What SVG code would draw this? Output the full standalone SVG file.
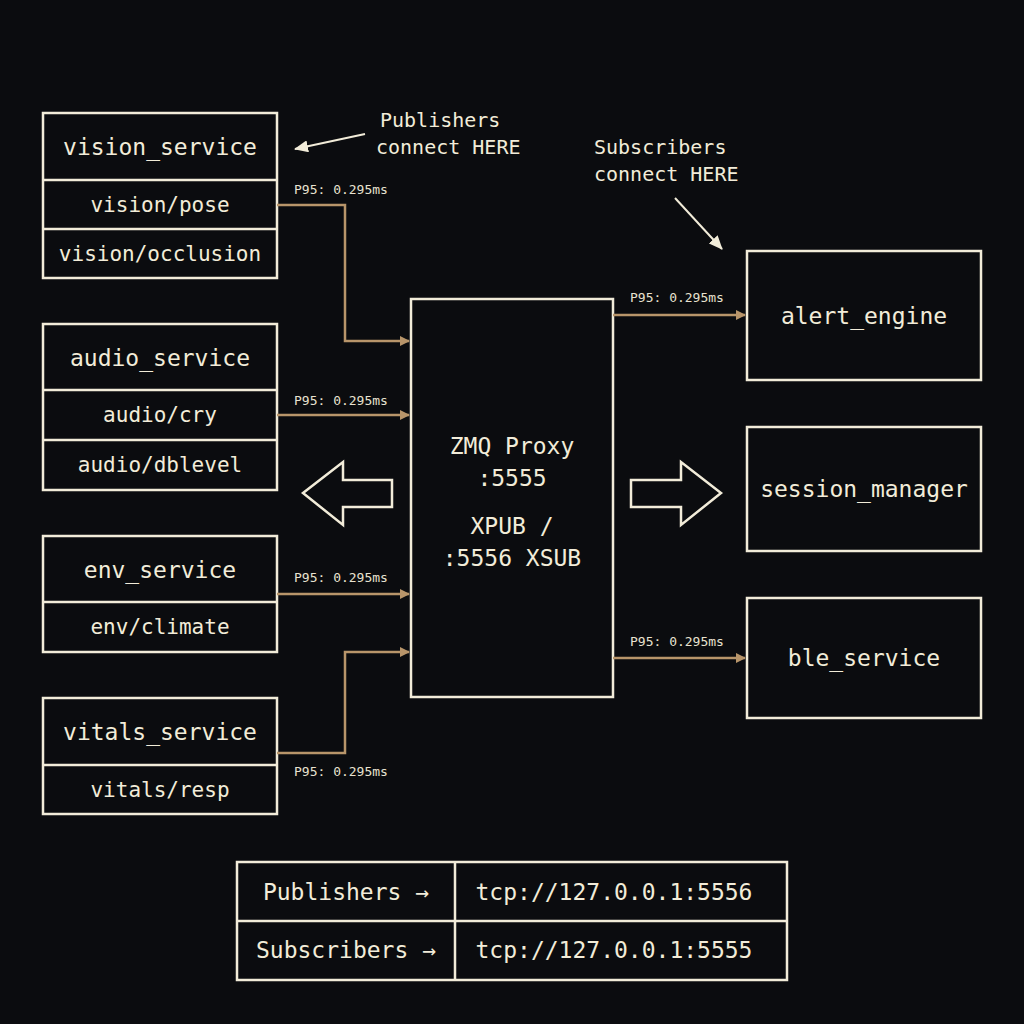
<svg xmlns="http://www.w3.org/2000/svg" width="1024" height="1024" viewBox="0 0 1024 1024">
<defs>
<style>
.b{fill:none;stroke:#f2ecd9;stroke-width:2.5}
.t{font-family:"DejaVu Sans Mono",monospace;fill:#f2ecd9;text-anchor:middle}
.h{font-size:23px}.r{font-size:21px}
.c{fill:none;stroke:#b8956a;stroke-width:2.5}
.p{font-family:"DejaVu Sans Mono",monospace;fill:#e8e2d0;font-size:13px}
.a{font-family:"DejaVu Sans Mono",monospace;fill:#f2ecd9;font-size:20px}
</style>
<marker id="m" markerWidth="10" markerHeight="10" refX="9" refY="5" orient="auto" markerUnits="userSpaceOnUse"><path d="M0,0 L10,5 L0,10z" fill="#b8956a"/></marker>
<marker id="w" markerWidth="14" markerHeight="12" refX="13" refY="6" orient="auto" markerUnits="userSpaceOnUse"><path d="M0,0 L14,6 L0,12z" fill="#f2ecd9"/></marker>
</defs>
<rect width="1024" height="1024" fill="#0b0c0f"/>
<g id="vision_service"><rect class="b" x="43" y="113" width="234" height="165"/><path class="b" d="M43 180H277M43 229H277"/>
<text class="t h" x="160" y="155">vision_service</text><text class="t r" x="160" y="212">vision/pose</text><text class="t r" x="160" y="261">vision/occlusion</text></g>
<g id="audio_service"><rect class="b" x="43" y="324" width="234" height="166"/><path class="b" d="M43 390H277M43 440H277"/>
<text class="t h" x="160" y="366">audio_service</text><text class="t r" x="160" y="422">audio/cry</text><text class="t r" x="160" y="472">audio/dblevel</text></g>
<g id="env_service"><rect class="b" x="43" y="536" width="234" height="116"/><path class="b" d="M43 602H277"/>
<text class="t h" x="160" y="578">env_service</text><text class="t r" x="160" y="634">env/climate</text></g>
<g id="vitals_service"><rect class="b" x="43" y="698" width="234" height="116"/><path class="b" d="M43 765H277"/>
<text class="t h" x="160" y="740">vitals_service</text><text class="t r" x="160" y="797">vitals/resp</text></g>
<g id="proxy"><rect class="b" x="411" y="299" width="202" height="398"/>
<text class="t h" x="512" y="454">ZMQ Proxy</text><text class="t h" x="512" y="486">:5555</text><text class="t h" x="512" y="534">XPUB /</text><text class="t h" x="512" y="566">:5556 XSUB</text></g>
<g id="alert_engine"><rect class="b" x="747" y="251" width="234" height="129"/><text class="t h" x="864" y="324">alert_engine</text></g>
<g id="session_manager"><rect class="b" x="747" y="427" width="234" height="124"/><text class="t h" x="864" y="497">session_manager</text></g>
<g id="ble_service"><rect class="b" x="747" y="598" width="234" height="120"/><text class="t h" x="864" y="666">ble_service</text></g>
<g id="connectors">
<path class="c" d="M277 205H345V341H409" marker-end="url(#m)"/>
<path class="c" d="M277 415H409" marker-end="url(#m)"/>
<path class="c" d="M277 594H409" marker-end="url(#m)"/>
<path class="c" d="M277 753H345V652H409" marker-end="url(#m)"/>
<path class="c" d="M613 315H745" marker-end="url(#m)"/>
<path class="c" d="M613 658H745" marker-end="url(#m)"/>
<text class="p" x="294" y="194">P95: 0.295ms</text>
<text class="p" x="294" y="405">P95: 0.295ms</text>
<text class="p" x="294" y="582">P95: 0.295ms</text>
<text class="p" x="294" y="776">P95: 0.295ms</text>
<text class="p" x="630" y="302">P95: 0.295ms</text>
<text class="p" x="630" y="646">P95: 0.295ms</text>
<polygon class="b" points="303,493 343,462 343,480 392,480 392,507 343,507 343,525"/>
<polygon class="b" points="631,480 681,480 681,462 721,493 681,525 681,507 631,507"/>
<path d="M365 134L295 149" stroke="#f2ecd9" stroke-width="2" marker-end="url(#w)"/>
<path d="M675 198L722 249" stroke="#f2ecd9" stroke-width="2" marker-end="url(#w)"/>
</g>
<text class="a" x="380" y="127">Publishers</text><text class="a" x="376" y="154">connect HERE</text>
<text class="a" x="594" y="154">Subscribers</text><text class="a" x="594" y="181">connect HERE</text>
<g id="table"><rect class="b" x="237" y="862" width="550" height="118"/><path class="b" d="M455 862V980M237 921H787"/>
<text class="t h" x="346" y="900">Publishers →</text><text class="t h" x="614" y="900">tcp://127.0.0.1:5556</text>
<text class="t h" x="346" y="958">Subscribers →</text><text class="t h" x="614" y="958">tcp://127.0.0.1:5555</text></g>
</svg>
